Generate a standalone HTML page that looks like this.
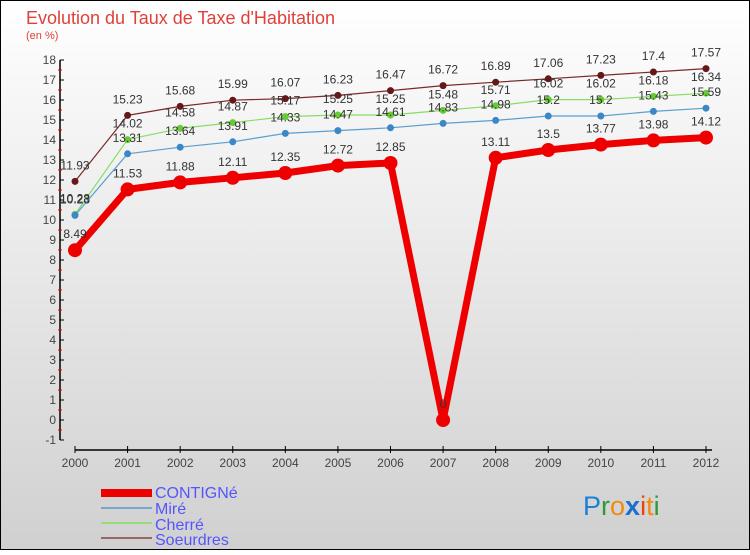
<!DOCTYPE html>
<html><head><meta charset="utf-8"><style>
body{margin:0;width:750px;height:550px;overflow:hidden;font-family:"Liberation Sans",sans-serif}
</style></head><body>
<svg id="c" width="750" height="550" xmlns="http://www.w3.org/2000/svg" font-family="Liberation Sans, sans-serif">
<defs><linearGradient id="bg" x1="0" y1="0" x2="0" y2="1"><stop offset="0" stop-color="#ffffff"/><stop offset="1" stop-color="#d0d0d0"/></linearGradient></defs>
<rect x="0.5" y="0.5" width="749" height="549" fill="url(#bg)" stroke="#000"/>
<text x="26" y="24" font-size="18" fill="#e0403a">Evolution du Taux de Taxe d'Habitation</text>
<text x="26" y="39" font-size="11" fill="#e0403a">(en %)</text>
<g id="axes"></g><g id="series"></g>
<g font-size="16" fill="#5555ff">
<rect x="101" y="489" width="51" height="8" fill="#ee0000"/><text x="155" y="498">CONTIGNé</text>
<rect x="101" y="507" width="51" height="2" fill="#77a8cc"/><text x="155" y="514">Miré</text>
<rect x="101" y="522" width="51" height="2" fill="#99dd77"/><text x="155" y="530">Cherré</text>
<rect x="101" y="537" width="51" height="2" fill="#996666"/><text x="155" y="545">Soeurdres</text>
</g>
<g font-size="27">
<text x="583" y="515"><tspan fill="#1a7fd8">P</tspan><tspan fill="#2a9a3a">r</tspan><tspan fill="#f08a10">o</tspan><tspan fill="#1a6fd0" font-weight="bold">x</tspan><tspan fill="#f04010">i</tspan><tspan fill="#f08a10">t</tspan><tspan fill="#2a9a3a">i</tspan></text>
</g>
</svg>
<script>
const years=["2000","2001","2002","2003","2004","2005","2006","2007","2008","2009","2010","2011","2012"];
const contigne=[8.49,11.53,11.88,12.11,12.35,12.72,12.85,0,13.11,13.5,13.77,13.98,14.12];
const mire=[10.23,13.31,13.64,13.91,14.33,14.47,14.61,14.83,14.98,15.2,15.2,15.43,15.59];
const cherre=[10.28,14.02,14.58,14.87,15.17,15.25,15.25,15.48,15.71,16.02,16.02,16.18,16.34];
const soeurdres=[11.93,15.23,15.68,15.99,16.07,16.23,16.47,16.72,16.89,17.06,17.23,17.4,17.57];
const yTicks=[-1,0,1,2,3,4,5,6,7,8,9,10,11,12,13,14,15,16,17,18];
const NS="http://www.w3.org/2000/svg";
const x=i=>75+i*(631/12), y=v=>420-20*v;
function mk(t,a,p){const e=document.createElementNS(NS,t);for(const k in a)e.setAttribute(k,a[k]);p.appendChild(e);return e;}
const ax=document.getElementById('axes');
let l=mk('line',{x1:60,y1:60,x2:60,y2:440,stroke:'#000','stroke-width':1.5},ax);


l=mk('line',{x1:75,y1:450,x2:712,y2:450,stroke:'#000','stroke-width':1.5},ax);


yTicks.forEach(v=>{
 mk('line',{x1:60,y1:y(v),x2:64,y2:y(v),stroke:'#000'},ax);
 if(v<18)mk('line',{x1:58,y1:y(v+0.5),x2:62,y2:y(v+0.5),stroke:'#e00'},ax);
 const t=mk('text',{x:56,y:y(v)+4,'font-size':12,fill:'#444','text-anchor':'end'},ax);t.textContent=v;
 
 
});
years.forEach((yr,i)=>{
 mk('line',{x1:x(i),y1:446,x2:x(i),y2:453,stroke:'#000'},ax);
 const t=mk('text',{x:x(i),y:467,'font-size':12,fill:'#444','text-anchor':'middle'},ax);t.textContent=yr;
 
 
});
const sg=document.getElementById('series');
function series(d,name,col,dot,w,r){
 const g=mk('g',{},sg);
 
 
 mk('polyline',{points:d.map((v,i)=>x(i)+','+y(v)).join(' '),fill:'none',stroke:col,'stroke-width':w,'stroke-linejoin':'round'},g);
 d.forEach((v,i)=>{
  const c=mk('circle',{cx:x(i),cy:y(v),r:r,fill:dot},g);
  
  
  const t=mk('text',{x:x(i),y:y(v)-12,'font-size':12,fill:'#333','text-anchor':'middle'},g);t.textContent=v;
  
  
 });
}
series(soeurdres,'soeurdres','#7a2a2a','#661818',1.2,3.5);
series(cherre,'cherre','#88dd66','#66cc33',1.2,3.5);
series(mire,'mire','#5a9fd0','#3a88c8',1.2,3.5);
series(contigne,'contigne','#ee0000','#ee0000',7,7);
</script>
</body></html>
